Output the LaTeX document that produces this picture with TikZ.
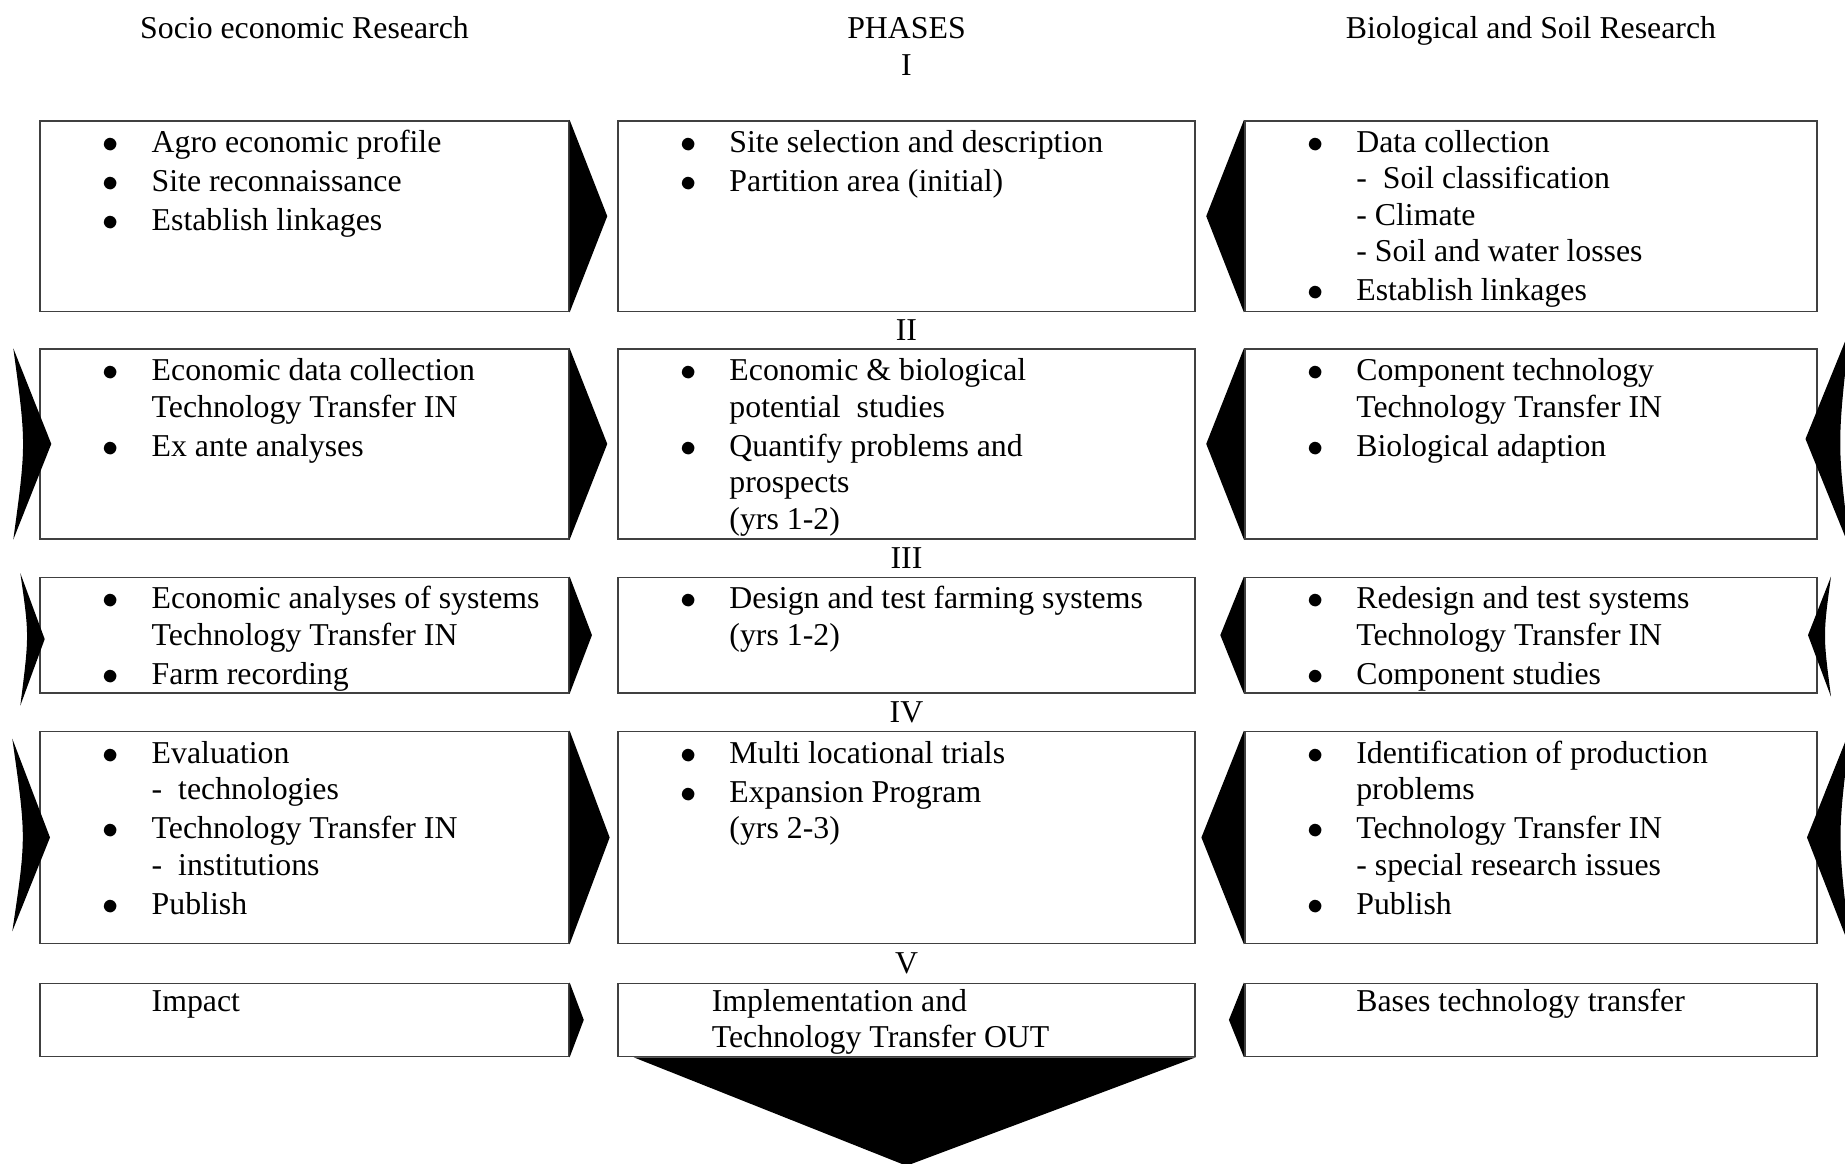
\documentclass[tikz,border=0pt]{standalone}
\usepackage{fontspec}
\setmainfont{Liberation Serif}
\usetikzlibrary{positioning, calc}
\newcommand{\bul}{\makebox[4.92mm][l]{$\bullet$}}
\newcommand{\indt}{\hspace*{4.92mm}}

\begin{document}
\begin{tikzpicture}[x=1mm, y=1mm,
      box/.style={rectangle, draw=black!75, line width=0.5pt, inner sep=0pt, anchor=north west},
      lbox/.style={box, minimum width=52.86mm},
      mbox/.style={box, minimum width=57.71mm},
      rbox/.style={box, minimum width=57.23mm},
      txt/.style={inner sep=0pt, anchor=base west, font=\fontsize{9.05pt}{10.4pt}\selectfont},
      head/.style={inner sep=0pt, anchor=base, font=\fontsize{9.05pt}{10.4pt}\selectfont},
      phase/.style={inner sep=0pt, font=\fontsize{9.05pt}{10.4pt}\selectfont},
      tri/.style={fill=black}
    ]
    \useasboundingbox (0,0) rectangle (184.5,-116.4);
    % boxes
    \node[lbox, minimum height=19.06mm] (s1) at (3.93,-12.00) {};
    \node[mbox, minimum height=19.06mm, right=4.74mm of s1] (m1) {};
    \node[rbox, minimum height=19.06mm, right=4.8mm of m1] (r1) {};
    \node[lbox, minimum height=18.95mm] (s2) at (3.93,-34.83) {};
    \node[mbox, minimum height=18.95mm, right=4.74mm of s2] (m2) {};
    \node[rbox, minimum height=18.95mm, right=4.8mm of m2] (r2) {};
    \node[lbox, minimum height=11.53mm] (s3) at (3.93,-57.66) {};
    \node[mbox, minimum height=11.53mm, right=4.74mm of s3] (m3) {};
    \node[rbox, minimum height=11.53mm, right=4.8mm of m3] (r3) {};
    \node[lbox, minimum height=21.18mm] (s4) at (3.93,-73.07) {};
    \node[mbox, minimum height=21.18mm, right=4.74mm of s4] (m4) {};
    \node[rbox, minimum height=21.18mm, right=4.8mm of m4] (r4) {};
    \node[lbox, minimum height=7.30mm] (s5) at (3.93,-98.25) {};
    \node[mbox, minimum height=7.30mm, right=4.74mm of s5] (m5) {};
    \node[rbox, minimum height=7.30mm, right=4.8mm of m5] (r5) {};
    % headings
    \node[head] (hsoc) at (s1.north |- 0,-3.87) {Socio economic Research};
    \node[head] (hph) at (m1.north |- 0,-3.87) {PHASES};
    \node[head] (hbio) at (r1.north |- 0,-3.87) {Biological and Soil Research};
    \node[head] (p1) at (m1.north |- 0,-7.52) {I};
    \node[phase] (p2) at ($(m1.south)!0.5!(m2.north)$) {II};
    \node[phase] (p3) at ($(m2.south)!0.5!(m3.north)$) {III};
    \node[phase] (p4) at ($(m3.south)!0.5!(m4.north)$) {IV};
    \node[phase] (p5) at ($(m4.south)!0.5!(m5.north)$) {V};
    % texts
    \node[txt] (s1t) at ([shift={(6.25,-3.23)}]s1.north west) {\parbox[t]{46mm}{%
      \bul Agro economic profile\\[0.7pt]\bul Site reconnaissance\\[0.7pt]\bul Establish linkages}};
    \node[txt] (m1t) at ([shift={(6.25,-3.23)}]m1.north west) {\parbox[t]{50mm}{%
      \bul Site selection and description\\[0.7pt]\bul Partition area (initial)}};
    \node[txt] (r1t) at ([shift={(6.25,-3.23)}]r1.north west) {\parbox[t]{50mm}{%
      \bul Data collection\\\indt -~ Soil classification\\\indt - Climate\\
      \indt - Soil and water losses\\[0.7pt]\bul Establish linkages}};
    \node[txt] (s2t) at ([shift={(6.25,-3.23)}]s2.north west) {\parbox[t]{46mm}{%
      \bul Economic data collection\\\indt Technology Transfer IN\\[0.7pt]\bul Ex ante analyses}};
    \node[txt] (m2t) at ([shift={(6.25,-3.23)}]m2.north west) {\parbox[t]{50mm}{%
      \bul Economic \& biological\\\indt potential~ studies\\[0.7pt]\bul Quantify problems and\\
      \indt prospects\\\indt (yrs 1-2)}};
    \node[txt] (r2t) at ([shift={(6.25,-3.23)}]r2.north west) {\parbox[t]{50mm}{%
      \bul Component technology\\\indt Technology Transfer IN\\[0.7pt]\bul Biological adaption}};
    \node[txt] (s3t) at ([shift={(6.25,-3.23)}]s3.north west) {\parbox[t]{46mm}{%
      \bul Economic analyses of systems\\\indt Technology Transfer IN\\[0.7pt]\bul Farm recording}};
    \node[txt] (m3t) at ([shift={(6.25,-3.23)}]m3.north west) {\parbox[t]{50mm}{%
      \bul Design and test farming systems\\\indt (yrs 1-2)}};
    \node[txt] (r3t) at ([shift={(6.25,-3.23)}]r3.north west) {\parbox[t]{50mm}{%
      \bul Redesign and test systems\\\indt Technology Transfer IN\\[0.7pt]\bul Component studies}};
    \node[txt] (s4t) at ([shift={(6.25,-3.23)}]s4.north west) {\parbox[t]{46mm}{%
      \bul Evaluation\\\indt -~ technologies\\[0.7pt]\bul Technology Transfer IN\\
      \indt -~ institutions\\[0.7pt]\bul Publish}};
    \node[txt] (m4t) at ([shift={(6.25,-3.23)}]m4.north west) {\parbox[t]{50mm}{%
      \bul Multi locational trials\\[0.7pt]\bul Expansion Program\\\indt (yrs 2-3)}};
    \node[txt] (r4t) at ([shift={(6.25,-3.23)}]r4.north west) {\parbox[t]{50mm}{%
      \bul Identification of production\\\indt problems\\[0.7pt]\bul Technology Transfer IN\\
      \indt - special research issues\\[0.7pt]\bul Publish}};
    \node[txt] (s5t) at ([shift={(6.25,-2.88)}]s5.north west) {\parbox[t]{46mm}{\indt Impact}};
    \node[txt] (m5t) at ([shift={(9.4,-2.88)}]m5.north west) {\parbox[t]{50mm}{%
      Implementation and\\Technology Transfer OUT}};
    \node[txt] (r5t) at ([shift={(6.25,-2.88)}]r5.north west) {\parbox[t]{50mm}{\indt Bases technology transfer}};
    % arrow heads between the columns
    \fill[tri] (s1.north east) -- ([shift={(3.76,0)}]s1.east) -- (s1.south east) -- cycle;
    \fill[tri] (r1.north west) -- ([shift={(-3.77,0)}]r1.west) -- (r1.south west) -- cycle;
    \fill[tri] (s2.north east) -- ([shift={(3.76,0)}]s2.east) -- (s2.south east) -- cycle;
    \fill[tri] (r2.north west) -- ([shift={(-3.77,0)}]r2.west) -- (r2.south west) -- cycle;
    \fill[tri] (s3.north east) -- ([shift={(2.23,0)}]s3.east) -- (s3.south east) -- cycle;
    \fill[tri] (r3.north west) -- ([shift={(-2.36,0)}]r3.west) -- (r3.south west) -- cycle;
    \fill[tri] (s4.north east) -- ([shift={(4.0,0)}]s4.east) -- (s4.south east) -- cycle;
    \fill[tri] (r4.north west) -- ([shift={(-4.25,0)}]r4.west) -- (r4.south west) -- cycle;
    \fill[tri] (s5.north east) -- ([shift={(1.41,0)}]s5.east) -- (s5.south east) -- cycle;
    \fill[tri] (r5.north west) -- ([shift={(-1.5,0)}]r5.west) -- (r5.south west) -- cycle;
    % outer arrow heads
    \fill[tri] ([shift={(-2.6,0)}]s2.north west) -- ([shift={(1.2,0)}]s2.west)
      -- ([shift={(-2.6,0)}]s2.south west) .. controls ([shift={(-1.3,0)}]s2.west) .. ([shift={(-2.6,0)}]s2.north west);
    \fill[tri] ([shift={(3.2,1.9)}]r2.north east) -- ([shift={(-1.25,0.5)}]r2.east)
      -- ([shift={(3.2,-0.9)}]r2.south east) .. controls ([shift={(1.9,0)}]r2.east) .. ([shift={(3.2,1.9)}]r2.north east);
    \fill[tri] ([shift={(-1.9,0.35)}]s3.north west) -- ([shift={(0.54,-0.4)}]s3.west)
      -- ([shift={(-1.9,-1.2)}]s3.south west) .. controls ([shift={(-1.0,0)}]s3.west) .. ([shift={(-1.9,0.35)}]s3.north west);
    \fill[tri] ([shift={(1.3,0)}]r3.north east) -- ([shift={(-1.0,0)}]r3.east)
      -- ([shift={(1.3,-0.3)}]r3.south east) .. controls ([shift={(0.5,0)}]r3.east) .. ([shift={(1.3,0)}]r3.north east);
    \fill[tri] ([shift={(-2.7,-0.8)}]s4.north west) -- ([shift={(1.07,0)}]s4.west)
      -- ([shift={(-2.7,1.3)}]s4.south west) .. controls ([shift={(-1.3,0)}]s4.west) .. ([shift={(-2.7,-0.8)}]s4.north west);
    \fill[tri] ([shift={(3.3,0.35)}]r4.north east) -- ([shift={(-1.1,0)}]r4.east)
      -- ([shift={(3.3,-0.6)}]r4.south east) .. controls ([shift={(1.9,0)}]r4.east) .. ([shift={(3.3,0.35)}]r4.north east);
    % output
    \fill[tri] ([shift={(1.65,0)}]m5.south west) -- (m5.south east) -- ([shift={(0,-10.85)}]m5.south) -- cycle;
  \end{tikzpicture}
\end{document}
